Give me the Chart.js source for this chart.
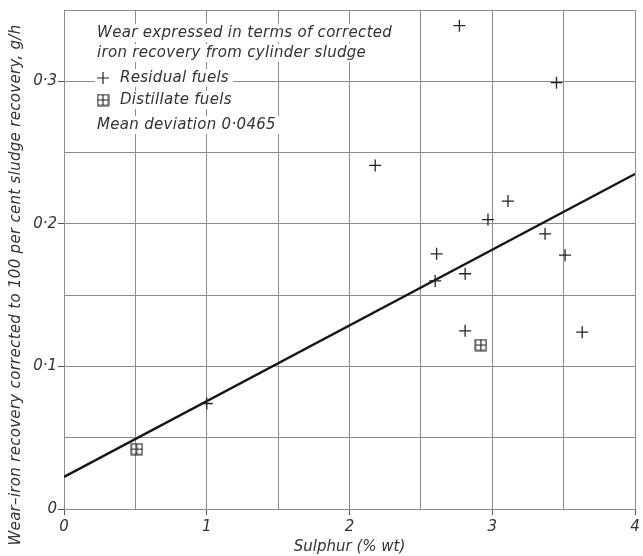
<!DOCTYPE html>
<html>
<head>
<meta charset="utf-8">
<script src="https://cdn.jsdelivr.net/npm/chart.js@4/dist/chart.umd.min.js"></script>
<style>
  html, body { margin: 0; padding: 0; background: #fff; }
  #c { display: block; }
</style>
</head>
<body>
<canvas id="c" width="643" height="556"></canvas>
<script>
// Residual fuels: sulphur (% wt) against corrected wear (g/h)
const residualSulphur = [2.77, 3.45, 2.18, 3.11, 2.97, 3.37, 3.51, 2.61, 2.81, 2.60, 2.81, 3.63, 1.00];
const residualWear    = [0.339, 0.299, 0.241, 0.216, 0.203, 0.193, 0.178, 0.179, 0.165, 0.160, 0.125, 0.124, 0.074];

// Distillate fuels
const distillateSulphur = [2.92, 0.51];
const distillateWear    = [0.115, 0.042];

// Fitted straight line (end points)
const fitSulphur = [0, 4];
const fitWear    = [0.0225, 0.235];

// Tick labels
const xTickValues = [0, 1, 2, 3, 4];
const xTickLabels = ['0', '1', '2', '3', '4'];
const yTickValues = [0, 0.1, 0.2, 0.3];
const yTickLabels = ['0', '0·1', '0·2', '0·3'];

// Texts
const noteLines = ['Wear expressed in terms of corrected', 'iron recovery from cylinder sludge'];
const legendLabels = ['Residual fuels', 'Distillate fuels'];
const deviationText = 'Mean deviation 0·0465';
const xTitle = 'Sulphur (% wt)';
const yTitle = 'Wear–iron recovery corrected to 100 per cent sludge recovery, g/h';

const INK = '#222';
const TEXT = '#333';
const GRID = '#8c8c8c';
const FONT = 'DejaVu Sans';

function pts(xs, ys) { return xs.map((x, i) => ({ x: x, y: ys[i] })); }
function labelFor(values, labels, v) {
  const i = values.findIndex(t => Math.abs(t - v) < 1e-6);
  return i < 0 ? null : labels[i];
}

// Boxed-cross marker for distillate fuels
function makeBoxPlus(size) {
  const c = document.createElement('canvas');
  c.width = size; c.height = size;
  const g = c.getContext('2d');
  g.strokeStyle = INK;
  g.lineWidth = 1.2;
  g.strokeRect(1.1, 1.1, size - 2.2, size - 2.2);
  g.beginPath();
  g.moveTo(size / 2, 1); g.lineTo(size / 2, size - 1);
  g.moveTo(1, size / 2); g.lineTo(size - 1, size / 2);
  g.stroke();
  return c;
}
const boxPlus = makeBoxPlus(13);

// In-plot notes and key, plus the rotated y-axis title
const notesPlugin = {
  id: 'notes',
  beforeDatasetsDraw(chart) {
    const g = chart.ctx;
    g.save();
    g.font = 'italic 15px "' + FONT + '"';
    g.letterSpacing = '0.3px';
    g.textBaseline = 'middle';
    const items = [
      { x: 97, y: 33, text: noteLines[0] },
      { x: 97, y: 53, text: noteLines[1] },
      { x: 120, y: 78, text: legendLabels[0], sym: 'cross' },
      { x: 120, y: 100, text: legendLabels[1], sym: 'box' },
      { x: 97, y: 125, text: deviationText }
    ];
    items.forEach(it => {
      const w = g.measureText(it.text).width;
      const x0 = it.sym ? 95 : it.x - 3;
      g.fillStyle = '#fff';
      g.fillRect(x0, it.y - 9, it.x + w + 4 - x0, 18);
    });
    items.forEach(it => {
      g.fillStyle = TEXT;
      g.fillText(it.text, it.x, it.y);
      if (it.sym === 'cross') {
        g.strokeStyle = INK; g.lineWidth = 1.2;
        g.beginPath();
        g.moveTo(97, it.y); g.lineTo(109, it.y);
        g.moveTo(103, it.y - 6); g.lineTo(103, it.y + 6);
        g.stroke();
      } else if (it.sym === 'box') {
        g.drawImage(boxPlus, 103 - 6.5, it.y - 6.5);
      }
    });
    g.restore();
  },
  afterDraw(chart) {
    const g = chart.ctx;
    g.save();
    g.font = 'italic 15px "' + FONT + '"';
    g.letterSpacing = '0.3px';
    g.fillStyle = TEXT;
    g.textAlign = 'center';
    g.textBaseline = 'middle';
    g.translate(16, 285);
    g.rotate(-Math.PI / 2);
    g.fillText(yTitle, 0, 0);
    g.restore();
  }
};

const tickFont = { family: FONT, style: 'italic', size: 15 };

new Chart(document.getElementById('c'), {
  type: 'scatter',
  data: {
    datasets: [
      {
        label: 'Fit',
        type: 'line',
        data: pts(fitSulphur, fitWear),
        borderColor: '#151515',
        borderWidth: 2.4,
        pointRadius: 0,
        fill: false,
        order: 3
      },
      {
        label: legendLabels[0],
        data: pts(residualSulphur, residualWear),
        pointStyle: 'cross',
        pointRadius: 6,
        pointBorderColor: INK,
        borderColor: INK,
        borderWidth: 1.3,
        order: 1
      },
      {
        label: legendLabels[1],
        data: pts(distillateSulphur, distillateWear),
        pointStyle: boxPlus,
        pointRadius: 7,
        borderColor: INK,
        order: 2
      }
    ]
  },
  options: {
    responsive: false,
    animation: false,
    devicePixelRatio: 1,
    layout: { padding: { top: 8, right: 4, left: 0, bottom: 0 } },
    plugins: { legend: { display: false }, tooltip: { enabled: false } },
    scales: {
      x: {
        type: 'linear',
        min: 0, max: 4,
        afterFit(s) { s.height = 47; },
        ticks: {
          stepSize: 0.5,
          autoSkip: false,
          maxRotation: 0,
          padding: 3,
          color: TEXT,
          font: tickFont,
          callback: v => labelFor(xTickValues, xTickLabels, v) ?? ''
        },
        grid: {
          color: GRID,
          lineWidth: 1,
          tickLength: 6,
          tickColor: ctx => (ctx.tick && labelFor(xTickValues, xTickLabels, ctx.tick.value) !== null) ? '#555' : 'rgba(0,0,0,0)'
        },
        border: { color: GRID, width: 1 },
        title: {
          display: true,
          text: xTitle,
          color: TEXT,
          font: tickFont,
          padding: { top: 0, bottom: 0 }
        }
      },
      y: {
        type: 'linear',
        min: 0, max: 0.35,
        afterFit(s) { s.width = 64; },
        ticks: {
          stepSize: 0.05,
          autoSkip: false,
          padding: 1,
          color: TEXT,
          font: tickFont,
          callback: v => labelFor(yTickValues, yTickLabels, v) ?? ''
        },
        grid: {
          color: GRID,
          lineWidth: 1,
          tickLength: 6,
          tickColor: ctx => (ctx.tick && labelFor(yTickValues, yTickLabels, ctx.tick.value) !== null) ? '#555' : 'rgba(0,0,0,0)'
        },
        border: { color: GRID, width: 1 }
      }
    }
  },
  plugins: [notesPlugin]
});
</script>
</body>
</html>
